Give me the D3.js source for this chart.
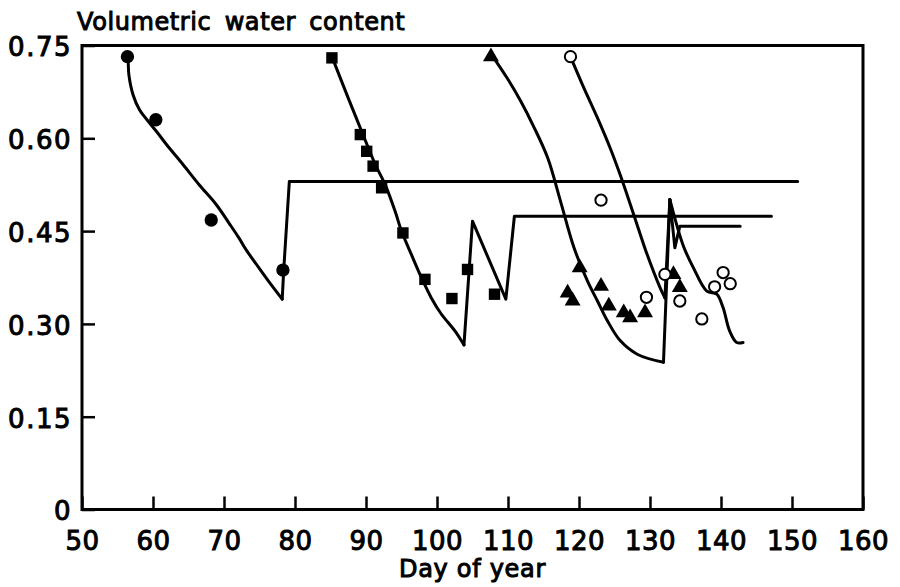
<!DOCTYPE html>
<html>
  <head>
    <meta charset=utf-8 />
    <title>Volumetric water content</title>
    <script src="https://cdnjs.cloudflare.com/ajax/libs/d3/7.8.5/d3.min.js"></script>
    <style>
      body { margin: 0; background: #fff; }
      text { font-family: "DejaVu Sans", sans-serif; fill: #000; stroke: #000; stroke-width: 1px; }
    </style>
  </head>
  <body>
    <div id="main-container"></div>
    <script>

  var outerWidth = 900;
  var outerHeight = 587;

  // measured points (day of year, volumetric water content)
  var circleDay = [56.4, 60.4, 68.2, 78.3];
  var circleTheta = [0.732, 0.630, 0.468, 0.387];

  var squareDay = [85.2, 89.2, 90.1, 91.0, 92.2, 95.2, 98.3, 102.1, 104.3, 108.1];
  var squareTheta = [0.730, 0.606, 0.579, 0.555, 0.520, 0.447, 0.372, 0.341, 0.388, 0.348];

  var triangleDay = [107.6, 118.4, 119.1, 120.1, 123.1, 124.2, 126.3, 127.2, 129.3, 133.3, 134.2];
  var triangleTheta = [0.732, 0.350, 0.337, 0.391, 0.361, 0.329, 0.318, 0.310, 0.318, 0.380, 0.359];

  var openDay = [118.8, 123.1, 129.5, 132.1, 134.2, 137.3, 139.1, 140.3, 141.3];
  var openTheta = [0.732, 0.500, 0.343, 0.380, 0.337, 0.308, 0.360, 0.383, 0.365];

  // simulated curves [day, theta]
  var modelCircle = [[56.4, 0.732], [56.5, 0.724], [56.6, 0.703], [57.2, 0.670], [58.1, 0.646],
    [59.5, 0.625], [60.5, 0.611], [61.9, 0.590], [64.2, 0.558], [66.5, 0.525], [68.9, 0.493],
    [70.7, 0.463], [72.1, 0.439], [73.1, 0.420], [74.9, 0.391], [76.8, 0.361], [78.2, 0.340],
    [78.4, 0.385], [79.2, 0.530], [150.8, 0.530]];

  var modelSquare = [[85.2, 0.732], [87.5, 0.665], [89.4, 0.611], [91.3, 0.558], [92.7, 0.525],
    [94.1, 0.482], [95.0, 0.450], [96.4, 0.412], [97.8, 0.375], [99.2, 0.342], [100.6, 0.316],
    [102.5, 0.289], [103.8, 0.266], [105.0, 0.466], [109.7, 0.340], [110.9, 0.474], [147.1, 0.474]];

  var modelTriangle = [[107.7, 0.735], [109.9, 0.697], [111.8, 0.660], [113.7, 0.617], [115.6, 0.568],
    [117.4, 0.498], [119.3, 0.423], [121.2, 0.369], [122.6, 0.337], [124.0, 0.305], [125.8, 0.273],
    [128.2, 0.251], [131.9, 0.238], [132.8, 0.501], [133.5, 0.423], [134.2, 0.458], [142.7, 0.458]];

  var modelOpen = [[118.8, 0.732], [120.7, 0.681], [122.6, 0.633], [124.4, 0.584], [125.8, 0.541],
    [127.7, 0.477], [129.6, 0.412], [131.4, 0.359], [132.1, 0.342], [132.8, 0.501], [134.7, 0.426],
    [136.1, 0.391], [138.0, 0.353], [139.4, 0.348], [140.3, 0.326], [141.2, 0.289], [142.2, 0.270],
    [143.1, 0.270]];

  var xTicks = [50, 60, 70, 80, 90, 100, 110, 120, 130, 140, 150, 160];
  var yTicks = [0, 0.15, 0.30, 0.45, 0.60, 0.75];

  var svg = d3.select('#main-container').append('svg')
    .attr('width', outerWidth)
    .attr('height', outerHeight);

  var xScale = d3.scaleLinear().domain([50, 160]).range([82, 863]);
  var yScale = d3.scaleLinear().domain([0, 0.75]).range([509.5, 45.5]);

  // ticks point inward
  var xAxis = d3.axisBottom(xScale).tickValues(xTicks).tickSize(-13).tickPadding(11)
    .tickFormat(d3.format('d'));
  var yAxis = d3.axisLeft(yScale).tickValues(yTicks).tickSize(-13).tickPadding(10)
    .tickFormat(function(d){ return d === 0 ? '0' : d3.format('.2f')(d); });

  var gx = svg.append('g').attr('transform', 'translate(0,' + yScale(0) + ')').call(xAxis);
  var gy = svg.append('g').attr('transform', 'translate(' + xScale(50) + ',0)').call(yAxis);

  [gx, gy].forEach(function(g){
    g.select('.domain').remove();
    g.selectAll('.tick line').attr('stroke', '#000').attr('stroke-width', 2.5);
    g.selectAll('.tick text').style('font-size', '26px').style('font-family', '"DejaVu Sans", sans-serif')
      .attr('fill', '#000').style('stroke', '#000').style('stroke-width', '1px');
  });
  gx.selectAll('.tick text').attr('dy', '1.15em').style('letter-spacing', '0.5px');
  gy.selectAll('.tick text').attr('dy', '0.4em').style('letter-spacing', '1.5px');

  // frame
  svg.append('rect')
    .attr('x', xScale(50)).attr('y', yScale(0.75))
    .attr('width', xScale(160) - xScale(50))
    .attr('height', yScale(0) - yScale(0.75))
    .attr('fill', 'none').attr('stroke', '#000').attr('stroke-width', 3);

  var smooth = d3.line().curve(d3.curveCatmullRom.alpha(0.5))
    .x(function(d){ return xScale(d[0]); })
    .y(function(d){ return yScale(d[1]); });
  var straight = d3.line()
    .x(function(d){ return xScale(d[0]); })
    .y(function(d){ return yScale(d[1]); });

  // each curve: smooth drying part, then sharp wetting jumps
  var pieces = [
    [modelCircle, [[0, 16, smooth], [16, 19, straight]]],
    [modelSquare, [[0, 12, smooth], [12, 16, straight]]],
    [modelTriangle, [[0, 12, smooth], [12, 16, straight]]],
    [modelOpen, [[0, 8, smooth], [8, 9, straight], [9, 17, smooth]]]
  ];

  pieces.forEach(function(p){
    p[1].forEach(function(s){
      svg.append('path').attr('d', s[2](p[0].slice(s[0], s[1] + 1)))
        .attr('fill', 'none').attr('stroke', '#000')
        .attr('stroke-width', 3).attr('stroke-linejoin', 'round').attr('stroke-linecap', 'round');
    });
  });

  function drawPoints(days, thetas, type, size, filled){
    var sym = d3.symbol().type(type).size(size);
    svg.append('g').selectAll('path').data(days).enter().append('path')
      .attr('d', sym)
      .attr('transform', function(d, i){ return 'translate(' + xScale(d) + ',' + yScale(thetas[i]) + ')'; })
      .attr('fill', filled ? '#000' : '#fff')
      .attr('stroke', '#000')
      .attr('stroke-width', filled ? 0 : 2);
  }

  drawPoints(circleDay, circleTheta, d3.symbolCircle, 140, true);
  drawPoints(squareDay, squareTheta, d3.symbolSquare, 130, true);
  drawPoints(triangleDay, triangleTheta, d3.symbolTriangle, 110, true);
  drawPoints(openDay, openTheta, d3.symbolCircle, 100, false);

  svg.append('text')
    .attr('x', 77).attr('y', 30)
    .style('font-size', '24px').style('letter-spacing', '0.6px').style('word-spacing', '5px')
    .text('Volumetric water content');

  svg.append('text')
    .attr('x', (xScale(50) + xScale(160)) / 2).attr('y', 577)
    .attr('text-anchor', 'middle')
    .style('font-size', '24px').style('letter-spacing', '0.7px')
    .text('Day of year');

</script>
  </body>
</html>
